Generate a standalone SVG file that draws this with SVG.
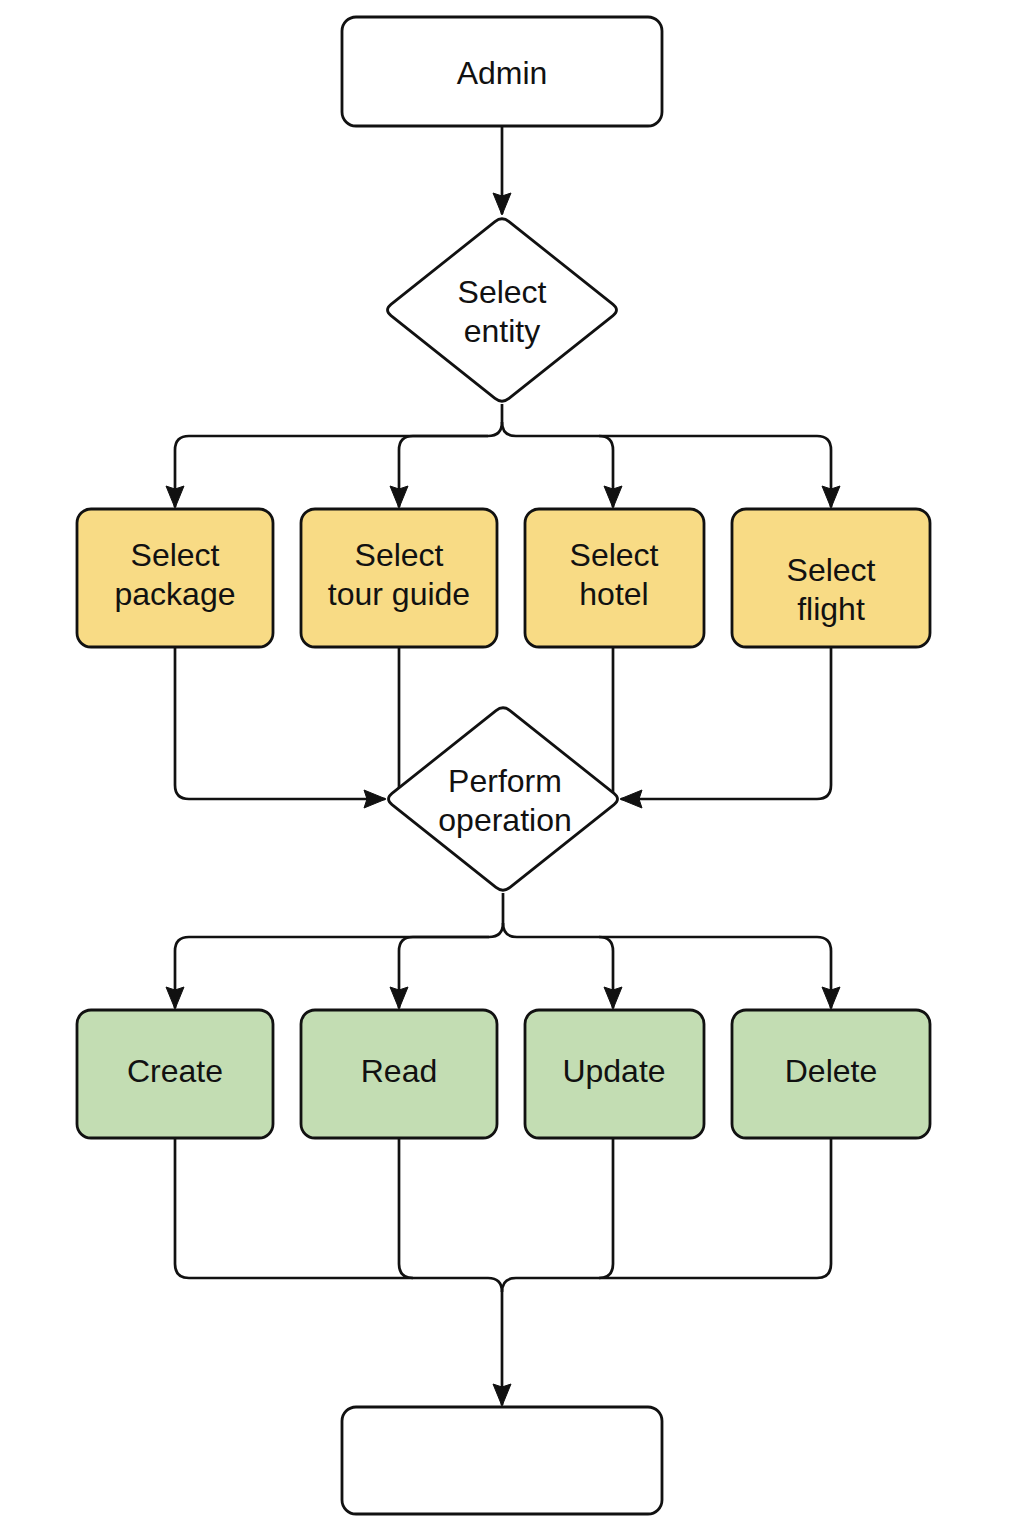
<svg xmlns="http://www.w3.org/2000/svg" width="1024" height="1536" viewBox="0 0 1024 1536">
<style>
.box{stroke:#111;stroke-width:2.8}
.plain{fill:#fff}
.yel{fill:#F8DB85}
.grn{fill:#C3DDB3}
.lbl{font-family:"Liberation Sans",Arial,sans-serif;font-size:32px;fill:#111;text-anchor:middle}
.con{fill:none;stroke:#111;stroke-width:2.7;stroke-linejoin:round}
</style>
<defs>
<marker id="arr" markerUnits="userSpaceOnUse" markerWidth="22" markerHeight="20" viewBox="0 0 22 20" refX="21" refY="10" orient="auto" overflow="visible">
<path d="M0,1 L22,10 L0,19 L3,10 Z" fill="#111" stroke="#111" stroke-width="1" stroke-linejoin="miter"/>
</marker>
<path id="dia" d="M7,-88.4 L111,-5.6 Q118,0 111,5.6 L7,88.4 Q0,94 -7,88.4 L-111,5.6 Q-118,0 -111,-5.6 L-7,-88.4 Q0,-94 7,-88.4 Z"/>
</defs>
<rect width="1024" height="1536" fill="#fff"/>

<g id="connectors">
<path class="con" d="M502,127 V214" marker-end="url(#arr)"/>
<path class="con" d="M502,404 V422 Q502,436 488,436 H189 Q175,436 175,450 V507" marker-end="url(#arr)"/>
<path class="con" d="M488,436 H413 Q399,436 399,450 V507" marker-end="url(#arr)"/>
<path class="con" d="M502,422 Q502,436 516,436 H599 Q613,436 613,450 V507" marker-end="url(#arr)"/>
<path class="con" d="M599,436 H817 Q831,436 831,450 V507" marker-end="url(#arr)"/>
<path class="con" d="M175,647 V785 Q175,799 189,799 H385" marker-end="url(#arr)"/>
<path class="con" d="M399,647 V788"/>
<path class="con" d="M613,647 V792"/>
<path class="con" d="M831,647 V785 Q831,799 817,799 H621" marker-end="url(#arr)"/>
<path class="con" d="M503,893 V923 Q503,937 489,937 H189 Q175,937 175,951 V1008" marker-end="url(#arr)"/>
<path class="con" d="M489,937 H413 Q399,937 399,951 V1008" marker-end="url(#arr)"/>
<path class="con" d="M503,923 Q503,937 517,937 H599 Q613,937 613,951 V1008" marker-end="url(#arr)"/>
<path class="con" d="M599,937 H817 Q831,937 831,951 V1008" marker-end="url(#arr)"/>
<path class="con" d="M175,1138 V1264 Q175,1278 189,1278 H488 Q502,1278 502,1292"/>
<path class="con" d="M399,1138 V1264 Q399,1278 413,1278"/>
<path class="con" d="M613,1138 V1264 Q613,1278 599,1278"/>
<path class="con" d="M831,1138 V1264 Q831,1278 817,1278 H516 Q502,1278 502,1292 V1405" marker-end="url(#arr)"/>
</g>

<g id="admin">
<rect class="box plain" x="342" y="17" width="320" height="109" rx="14"/>
<text class="lbl" x="502" y="84">Admin</text>
</g>

<g id="select-entity">
<use href="#dia" x="502" y="310" class="box plain"/>
<text class="lbl" x="502" y="303">Select</text>
<text class="lbl" x="502" y="342">entity</text>
</g>

<g id="select-package">
<rect class="box yel" x="77" y="509" width="196" height="138" rx="14"/>
<text class="lbl" x="175" y="566">Select</text>
<text class="lbl" x="175" y="605">package</text>
</g>
<g id="select-tour-guide">
<rect class="box yel" x="301" y="509" width="196" height="138" rx="14"/>
<text class="lbl" x="399" y="566">Select</text>
<text class="lbl" x="399" y="605">tour guide</text>
</g>
<g id="select-hotel">
<rect class="box yel" x="525" y="509" width="179" height="138" rx="14"/>
<text class="lbl" x="614" y="566">Select</text>
<text class="lbl" x="614" y="605">hotel</text>
</g>
<g id="select-flight">
<rect class="box yel" x="732" y="509" width="198" height="138" rx="14"/>
<text class="lbl" x="831" y="581">Select</text>
<text class="lbl" x="831" y="620">flight</text>
</g>

<g id="perform-operation">
<use href="#dia" x="503" y="799" class="box plain"/>
<text class="lbl" x="505" y="792">Perform</text>
<text class="lbl" x="505" y="831">operation</text>
</g>

<g id="create">
<rect class="box grn" x="77" y="1010" width="196" height="128" rx="14"/>
<text class="lbl" x="175" y="1082">Create</text>
</g>
<g id="read">
<rect class="box grn" x="301" y="1010" width="196" height="128" rx="14"/>
<text class="lbl" x="399" y="1082">Read</text>
</g>
<g id="update">
<rect class="box grn" x="525" y="1010" width="179" height="128" rx="14"/>
<text class="lbl" x="614" y="1082">Update</text>
</g>
<g id="delete">
<rect class="box grn" x="732" y="1010" width="198" height="128" rx="14"/>
<text class="lbl" x="831" y="1082">Delete</text>
</g>

<g id="end">
<rect class="box plain" x="342" y="1407" width="320" height="107" rx="14"/>
</g>
</svg>
